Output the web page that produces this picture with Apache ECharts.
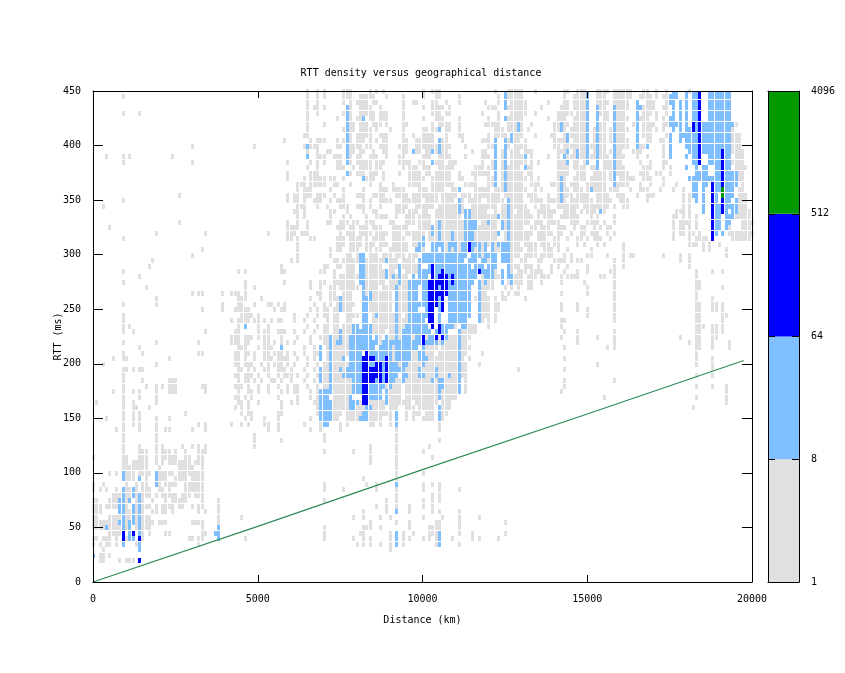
<!DOCTYPE html>
<html><head><meta charset="utf-8">
<style>html,body{margin:0;background:#fff}#c{width:845px;height:673px}</style>
<script src="https://cdn.jsdelivr.net/npm/echarts@6/dist/echarts.min.js"></script>
</head><body><div id="c"></div>
<script>
const colorLevels=[1,8,64,512,4096];
const levelColors=['#e0e0e0','#7fbfff','#0000ff','#009900'];
const distanceBinKm=100, rttBinMs=5;
const limitLine=[[0,0],[5000,51],[10000,103],[15000,154],[19750,203]];
// [rtt bin, "distance bins or bin ranges"]
const grayRows=[
[90,"65 68 70 76-78 84 86 88 100 103-105 122 126-130 134 143-144 147-149 153-156 158-163 167-168 171 174 181"],
[89,"9 65 68 70 76-78 81-85 89 94 100 104-105 111 123 126-130 143 146-149 153-155 158-163 166-169 171 173-174"],
[88,"65 68 76 78 80-83 85-86 94 97-98 103-104 107 111 119 123 127-131 138 143-144 146-149 153-156 158-162 168-170 174"],
[87,"65 67-68 70 78 81-84 87 94 100 103-106 108 120-122 126-131 136 142-144 146-149 154-155 158-162 167-170 173-174"],
[86,"9 14 65 68 76 78 81-85 87-89 94 103-105 107-108 118 123 127-131 134 141-145 147-149 153-156 159-161 167-169 171 174"],
[85,"65 74 78 80-82 84-85 87-89 94 100 104-106 111 120 123 126-130 138 141-143 146-149 155-156 158-162 166-168 171 173"],
[84,"65 70 78-79 81-83 85-87 89 94-95 103 105-108 111 119-123 126-128 130 133 140-144 146-149 153-155 158-161 164 167-170 173-174 194-195"],
[83,"65 76 78-79 81-84 86 90 94 100-101 103-105 107-108 111 122-124 126-128 130 132 140-143 145-149 152-155 157-162 167-169 171 173 194"],
[82,"64-65 78 80-84 87-89 94 97 100-103 107 111-112 120 122-125 127-130 134 139-140 143 145-149 152-155 157-161 167-169 174 194-196"],
[81,"58 66 68-70 74 76 78 80-82 84 86 88-89 94-95 98-103 105-107 112 118-120 126-129 131 140-144 146-149 152-155 157-162 168-169 172-173 194-196"],
[80,"30 49 64 66-68 74-75 78-81 83-84 87-89 93-95 98-104 106-108 113 120-121 126 128-131 140-141 143-149 151-155 158-162 165-167 173 181 194-196"],
[79,"65 68 71-72 78-79 81-82 85 88-89 94-95 98-99 101-104 106-107 115 118-119 124 127-129 131-133 141-143 146-149 152-155 157-160 164-166 173 194-197"],
[78,"4 9 11 24 65 68-70 73-75 78 80-81 84-86 89 93-94 100-102 105-108 113 118-120 124 127-131 133 138 141 144-149 151-156 158-161 165 168 173 195-197"],
[77,"9 30 59 66 68 70 74-75 78 80-84 86-88 93-96 99-100 103-106 108-110 118 121 124 127-131 133 135 141-144 146-147 149 155-157 159-160 166 169 173-174 194-197"],
[76,"65 68 74-76 79 81-84 86-87 94 96-98 100-102 105-109 116-118 120-121 124 126-129 132-133 141-144 146-149 151-153 155-157 159-161 167-169 173 175 195-198"],
[75,"59 66-68 78 80-82 84-86 88 93 96-99 101-102 104-108 111 115-120 124 126-130 132-133 141-144 147-149 152-155 157 159-162 166-168 171-172 175 195-197"],
[74,"59 64 66-70 72-73 76 83-85 88 96-100 103-108 111-112 116 120-122 124 126-131 133 135 141-143 146-149 151-155 157 160-164 167-169 173 196-197"],
[73,"62-64 66-70 73-74 78 84 87 91 96-99 103-109 113-116 120-122 124 126-130 133-135 139-143 145-147 150-155 158-162 166 169 173 177 197"],
[72,"62 64-66 72 76 82 87-89 91-94 99-101 103-106 109-111 116-120 122-124 126-131 134 136 141-144 146-148 150-155 157-159 163 166-168 172 176 179 196-197"],
[71,"26 59 61-62 64-66 68-70 73 76 80-82 85-88 92-95 97-104 106-110 112-114 116-123 125-130 132-134 138 141-145 147-150 153-156 159-161 165 168-170 179 181 196-198"],
[70,"9 59 61-62 64 67-69 72 74-76 82 84 87-90 94-99 101-104 106-109 112 114-117 120-124 126-130 133-136 138-143 145-151 153-157 160-162 168 179 181 196-198"],
[69,"3 62 63-64 68 71 75-77 80-82 84 87 92-95 98-103 105-110 112 115-122 124-125 127-131 134 136-138 141-147 149-156 158 161-162 179 181 194 196-198"],
[68,"61-62 64 72-73 77 82 85-86 92-94 96-98 100-101 104-110 112 115-119 122 124-127 129-132 135-140 143-146 148 150-152 154-155 177-179 181 196-199"],
[67,"62 64 72 76 78 83 86-89 92 95-97 99-102 104-111 115-122 124-125 127-130 131-133 135 137-139 142-147 151 153 158 176-177 179 181 183 195-199"],
[66,"26 59 62 65 71-72 75-77 79-80 83-85 90-91 95-97 99-102 104 106-113 116 118-119 121-122 125 127-132 134-136 138-141 145-147 150-153 155 158 176 178-181 183 193 197-200"],
[65,"5 59-62 65 74-76 78-79 81-83 85-87 91-95 99-102 104 106-112 115 117-122 125 127-130 133-134 136-138 141-143 146 148-149 152 154 156-157 176 178-179 181 183 193 197-199"],
[64,"19 34 53 59-61 63-65 75 77-79 81-84 86-89 91-93 95-100 102 104 106-112 116-123 125 127-133 135-139 141-142 145 148-149 151-153 156 158 176 178-179 181-182 184 193-200"],
[63,"9 59-60 62 66-67 74-76 78-81 83 85-88 91-94 97-100 102-104 106-108 110-112 116-122 125 127-132 135-137 140-141 144 147-148 150 152-154 157 176 181 183-186 194-199"],
[62,"62 74-76 78-81 83-85 87-89 91-95 97-99 103 105 107 110-112 116-118 120 122 124 127-129 131-134 136-138 140-141 147 149 153 155 161 181-183 185 187 190"],
[61,"33 62 72 74-75 78-80 83-84 86-87 90-95 98-100 104 106-109 111 116-119 121-123 127-130 132-134 137-139 141 144 151 161 185 187 192"],
[60,"30 62 72 77-78 80 84-86 88-90 92-94 96-98 118-122 127-129 131-134 136-139 143 145 150-151 156 161 163-164 173 178 181 192"],
[59,"18 60 62 73-74 76-80 83-88 90-92 94-97 118-121 127 130-131 135-136 140-143 145 147-148 158 161 178 181"],
[58,"17 57 70-71 74-75 77-79 83-87 90-92 94-98 118 127-129 131-133 135 139 141 144 150 158 161 181"],
[57,"9 44 46 57-58 69-70 73 77-79 83-88 90-91 95-98 118-122 127 129-131 133-136 139 143 147 150 157-158 183 188 191"],
[56,"14 73 75-80 83-88 90-92 94-95 118-124 126-130 132-134 136-138 142 144-147 154-155 158 183"],
[55,"9 46 58 66 69-70 73-79 83-88 90-92 94-95 118-121 126-130 132-133 136 142 149 158 183-184"],
[54,"16 46 49 66 69 72-73 75-80 83-86 88-91 93-95 118-121 125 127 129 132-133 150 158 183-184 191"],
[53,"30 32-33 39 42-44 46 68-69 72-73 76-78 83-90 93 94-95 118-119 124 126 128-129 142 150 158 183"],
[52,"19 44-46 51 66 69 72-74 76-78 85-90 93-95 116 118-120 122 124-125 131 158 183 188"],
[51,"9 19 39 44-45 49 53-54 56 58 67 70 72 74 76-79 84-90 93-95 118-120 122-123 142 147 158 183-184 188-189 191"],
[50,"33 39 43-47 55 57-58 66 68 70-71 73-74 76-78 84-90 93-95 102 118-120 122-123 142 147 150 158 183-184 188-189 191"],
[49,"9 45-48 50 61 65 68 70-71 73-74 77-80 85-91 93 95 118-120 122 150 158 183-184 191-192"],
[48,"9 42 44-47 49-50 52 54 56-57 61 64 67 71 73-74 77-78 85-91 93-95 118 120 122 142-143 158 183-184 191"],
[47,"9 11 44 50 53 65 68 70-71 73-74 76-78 85-91 93-94 108-110 113-116 120 142 183-185 188-189 191"],
[46,"9 12 34 43-44 50 52-53 56-58 61 64 67 70-71 73-74 76-78 85-88 90-91 93 112-116 143 147 158 183-184 188-189 191"],
[45,"42-44 46-48 50 52-53 57 62 66 69-71 73-74 76-77 87 90-91 93 97 100-101 105-106 108-110 112-114 142 147 153 158 178 183-184 188-189"],
[44,"9 19 32 42-44 46-47 52-53 55 57 59 61 66 70-71 73 76-77 87 91 97-98 102-103 105 107-110 112-113 147 158 181 183-184 188 193"],
[43,"14 44-46 50 52-54 57 64 67 71 73-77 91 97 101-104 106-110 112-114 143 156 158 183-184 188 193"],
[42,"9 15 32-33 43-44 46-47 49 52-53 55-57 59 61 64 67-68 71 73-77 91 97-98 101-103 105-110 112-113 118 183"],
[41,"6 9-10 23 43-44 46 49 52-54 56-59 62 65 67 71 73-75 91 97-98 102-110 112 114 143 183 188"],
[40,"3 19 43-44 46-48 51 53 55-57 59 61 65 68 70-71 73-77 93 96-99 101-110 112-113 117 153 183 188"],
[39,"9-10 12 14-15 44-45 47 49 52-53 56-58 60 64 67 70-71 73-74 76 82-84 86-87 95-98 100-103 105-110 112-113 129 143 188"],
[38,"9 43-44 46-48 50 53 56 58-60 62 65 68 70-71 73-75 82-84 95-98 101-103 105-107 109-110 112-113 183 188"],
[37,"9 15 23-25 44 46-47 49 51 54-55 57 60 64 67 70-71 73-78 82-84 87 92-93 95-102 104 107-110 113 143 158"],
[36,"9 16 19 21 23-25 33-34 43-45 47 50 53 56 59 61-62 65 68 70-71 73-78 82-83 89 91-93 95-104 107-110 113 143 183 188 192"],
[35,"6 9 12 14 19 23-25 34 44 47-48 50 53 57 59 61-62 66 68 73-78 82-83 90-93 95-104 106-110 113 142 192"],
[34,"9 14 19 43-44 46 48 56 62 66 68 73-77 82-83 90-93 95-104 106-110 155 183 192"],
[33,"1 9 12 19 44-45 47 50 57 60 62 67-68 73-77 81 83-88 90-96 98-104 106-108 192"],
[32,"9 12-13 17 43 45 47 57 68 73-77 80-82 85-88 90-92 95-97 99-103 106-108 182"],
[31,"9 12 14 28 45 47-48 56-57 68 73-75 77-81 84-90 95 97-99 101-103 106-107"],
[30,"4 9 12 14 19 23 46 48 52 56 66 73-74 77-80 84-87 90 95 97 100-103 106"],
[29,"9 12 14 19 32 34 42 45 47 52-53 56 64 69 75 77 84-85 87 90 92 105"],
[28,"7 9 14 19 22-23 30 34 53 56 66 69 75 92 105"],
[27,"9 19 49 70 92"],[26,"9 19 49 57 70 92 105"],
[25,"9 14 19 21 27 30 32 34 49 84 92 102"],
[24,"9 14-16 19 21-23 25 28 32-34 70 79 84 92 100"],
[23,"0 9-10 14-16 19 21-25 28-29 32-33 84 92 103"],
[22,"9-10 12-16 19 21 23-29 31-33 84 92"],
[21,"9-16 20 26-30 33 92"],
[20,"5 7 10-12 14-17 20-24 26-33 92 100"],
[19,"10-12 14 16 20-22 25-28 30-33 82 92"],
[18,"0 3 10 13 15-16 20 22-25 28-33 70 83 86 100 103 105"],
[17,"0 2 4 7 10-13 15-17 20-21 23 28-33 70 76 86 92 100 105 111"],
[16,"6-8 10-13 15-17 19 21-25 27-29 31-33 92 103 105"],
[15,"0-1 5-7 10-11 13 15 18 22 24-28 33 38 70 89 92 100 103 105"],
[14,"0-2 4-7 10 13 15-17 19 21-24 26-27 30 32-33 38 86 89 92 96 100 103"],
[13,"0-2 10-11 13 15 18-19 21-22 24 32 34 38 82 89 96 103 105 111"],
[12,"0-1 5-8 10-11 13 15-17 38 45 79 82 87 90 100 106 111 117"],
[11,"0-8 10 13 15-18 20-22 30-33 38 84 92 96 104-105 111 125"],
[10,"0-8 10 13 15-17 33 38 70 82-84 87 96 102-105 111"],
[9,"5-8 15 17 22-23 33-34 38 70 81-82 90 94 97 102-105 111 115 125"],
[8,"0-1 3-5 7 10 15 29-30 32-33 46 70 79 82 84 90 94 96 100 102 104 109 115 117 123"],
[7,"0 2 4-5 7 13 32 80 82 84 87 90 94 104 111"],
[6,"3 90"],[5,"2-3 5"],[4,"2-3 8 10-12"]
];
const lightRows=[
[90,"125 150 176-177 180 182-183 187-193"],[89,"125 150 175-177 180 182-183 187-193"],
[88,"125 150 165 175-176 178 180 182-183 187-193"],[87,"77 125 150 153 158 165-166 176 178 180 182-183 187-193"],
[86,"77 150 153 158 165 176 178 180 182-183 187-193"],[85,"82 77 125 150 153 158 165 175-176 178 180 182-183 187-193"],
[84,"77 129 142 150 153 158 165 175-177 178 180 182-183 185-186 187-194"],[83,"77 105 129 142 150 153 158 165 176 178 180-183 185-186 187-193"],
[82,"77 127 144 150 153 158 165 175 178-183 185-186 187-193"],[81,"77 105 122 125 127 144 150 153 158 165 175 178 180-183 185-186 187-193"],
[80,"65 77 105 122 125 150 153 158 165 168 175 180-183 185-186 187-193"],[79,"77 97 103 105 122 125 144 147 150 153 158 175 181-183 185-186 187-190 192-193"],
[78,"65 77 122 125 131 143 147 150 153 158 175 180 182-183 187-190 192-193"],[77,"77 103 122 125 144 150 153 158 182-183 187-190 192-193"],
[76,"122 125 131 153 158 180 183 185-186 189-190 192-193"],[75,"77 122 125 158 183-186 189-190 192-195"],
[74,"82 122 125 142 158 181-186 187-190 192-195"],[73,"122 125 142 158 182-183 185-186 189-190 192-195"],
[72,"111 125 142 151 182-183 185 189-190 192-194"],[71,"142 182-183 185 189 192-194"],
[70,"111 126 142 183 185 189 192-193 195"],[69,"111 126 185 189-190 192-195"],
[68,"111 113-114 126 154 185 189-190 192 194-195"],[67,"113-114 123 126 189-190 192-194"],
[66,"105 113-116 120 124 126 189-190 192-193"],[65,"103 105 113-116 124 126 189-190 192"],
[64,"103 105 109 113-115 123 126 189 191"],[63,"100 105 109 113-115 126 188"],
[62,"99-100 103-106 108-110 112-113 115-117 119 121 123-126"],[61,"98-99 103-104 106 108 110 112-113 115 117 119 121 124-126"],
[60,"81-82 100-113 115-117 119-122 124-126"],[59,"81-82 89 99-112 114-116 118-119 121-122 124-126"],
[58,"81-82 93 99 102-114 116-118 120-122 126"],[57,"81-82 89 93 99-102 104-105 107-116 118-121 124 126"],
[56,"81-82 89 91 93 97 99-101 104 108-116 119-121 124 126-127"],[55,"81-82 93 96-101 105-115 117 119 124 127"],
[54,"82 92 96-98 100-101 104-114 117"],[53,"82 84 92 96-98 100-101 104-114 117"],
[52,"75 82-84 92 96-98 100-101 105 108-114 117"],[51,"75 82-83 92 96-101 105 108-114 117"],
[50,"75 82-83 92 96-98 101 105 108-114 117"],[49,"82-83 86 92 96-101 105 108-114 117"],
[48,"82-83 92 96-100 105 108-113 117"],[47,"46 79-80 82-84 92 95-101 106-109 112-113"],
[46,"75 79-84 92 94-102 104-107 111"],[45,"72 75 78-84 86 89 92 94-96 98-99 102-104 107 111"],
[44,"72 74-75 78-86 88-99 101-104 106 111"],[43,"57 69 72 78-85 87-90 92-98 100 111"],
[42,"69 72 78-81 84-90 92-96 99-100 111"],[41,"69 72 76 78-90 92-96 99-101 111"],
[40,"72 78-92 94-95 100 111"],[39,"69 72 75 77-81 85 88-94 99 104 111"],
[38,"69 72 76-81 85 88-92 94-95 99-100 104 108 111"],[37,"69 72 79-81 85-86 88-91 94 103 105-106 111"],
[36,"72 79-81 84-88 90 105-106 111"],[35,"69-72 79-81 84-87 89 105 111"],
[34,"69-71 78 84-87 89 105"],[33,"69-72 78-80 89"],
[32,"69-72 78-79 83-84 105"],[31,"69-72 82-83 92 105"],
[30,"69-72 81-83 92 105"],[29,"70-71 92"],
[20,"9 19"],[19,"9 14 19"],[18,"19 92"],[17,"9 12"],[16,"9 12 14"],[15,"8-9 11 14"],[14,"8-9 12 14"],[13,"8-9 12 14 92"],[12,"9 12 14"],[11,"8-9 11-12 14"],
[10,"4 9 11 14 38"],[9,"11 14 37-38 92 105"],[8,"11-12 38 92 105"],[7,"9 14 92 105"],[6,"14"],[5,"0"]
];
const blueRows=[
[90,"184"],[89,"184"],[88,"184"],[87,"184"],[86,"184"],[85,"184"],[84,"182 184"],[83,"182 184"],[82,"184"],[81,"184"],[80,"184"],[79,"184 191"],[78,"184 191"],[77,"184 191"],
[76,"191"],[75,"191"],[74,"191"],[73,"188 191"],[72,"188"],[71,"188"],[70,"188 191"],[69,"188 191"],[68,"188 191"],[67,"188"],[66,"188"],[65,"188"],[64,"188"],[63,"188"],
[62,"114"],[61,"114"],[58,"103"],[57,"103 106 117"],[56,"103 105-107 109"],[55,"102-107 109"],
[54,"102-104 106-107"],[53,"102-107"],[52,"102-104 106"],[51,"102-104 106"],[50,"102-103 106"],[49,"102-103"],[48,"102-103"],[47,"103 105"],[46,"105"],[45,"100 104 106"],[44,"100"],
[42,"83"],[41,"82-85 89"],[40,"82-83 86-87 89"],[39,"82-87 89"],[38,"82-87 89"],[37,"82-85 87 89"],[36,"82-83"],[35,"82-83"],[34,"82-83"],[33,"82-83"],
[9,"9 12"],[8,"9 14"],[4,"14"]
];
const greenRows=[[72,"191"],[71,"191"]];

function expand(rows){
  const out=[];
  rows.forEach(([r,s])=>s.split(' ').forEach(t=>{
    const [a,b]=t.split('-').map(Number);
    for(let c=a;c<=(b===undefined?a:b);c++) out.push([c*distanceBinKm,r*rttBinMs]);
  }));
  return out;
}
const mono='"DejaVu Sans Mono",monospace';
const cellSeries=(rows,color,z)=>({
  type:'custom',xAxisIndex:0,yAxisIndex:0,clip:true,silent:true,z,
  data:expand(rows),
  renderItem:(p,api)=>{
    const pt=api.coord([api.value(0),api.value(1)]);
    return {type:'rect',shape:{x:Math.round(pt[0])-1,y:Math.round(pt[1])-2,width:3,height:5},style:{fill:color}};
  }
});
const barData=levelColors.map((c,i)=>[0,colorLevels[i],1,colorLevels[i+1],i]);
const line={onZero:false,lineStyle:{color:'#000',width:1}};
const plain=v=>String(v);
const chart=echarts.init(document.getElementById('c'),null,{renderer:'canvas'});
chart.setOption({
  animation:false,backgroundColor:'#fff',
  title:{text:'RTT density versus geographical distance',left:416,top:63,textAlign:'center',
    textStyle:{fontFamily:mono,fontSize:10,fontWeight:'normal',color:'#000'}},
  grid:[{left:93,top:91,width:659,height:491},{left:768,top:91,width:31,height:491}],
  xAxis:[
    {gridIndex:0,type:'value',z:20,min:0,max:20000,interval:5000,position:'bottom',name:'Distance (km)',nameLocation:'middle',nameGap:33,nameMoveOverlap:false,
     nameTextStyle:{fontFamily:mono,fontSize:10,color:'#000'},axisLine:line,splitLine:{show:false},
     axisTick:{inside:true,length:7,lineStyle:{color:'#000'}},axisLabel:{fontFamily:mono,fontSize:10,color:'#000',margin:12,formatter:plain}},
    {gridIndex:0,type:'value',z:20,min:0,max:20000,interval:5000,position:'top',axisLine:line,splitLine:{show:false},
     axisTick:{inside:true,length:7,lineStyle:{color:'#000'}},axisLabel:{show:false}},
    {gridIndex:1,type:'value',z:20,min:0,max:1,position:'bottom',axisLine:line,splitLine:{show:false},axisTick:{show:false},axisLabel:{show:false}},
    {gridIndex:1,type:'value',z:20,min:0,max:1,position:'top',axisLine:line,splitLine:{show:false},axisTick:{show:false},axisLabel:{show:false}}
  ],
  yAxis:[
    {gridIndex:0,type:'value',z:20,min:0,max:450,interval:50,position:'left',name:'RTT (ms)',nameLocation:'middle',nameGap:30,nameMoveOverlap:false,
     nameTextStyle:{fontFamily:mono,fontSize:10,color:'#000'},axisLine:line,splitLine:{show:false},
     axisTick:{inside:true,length:10,lineStyle:{color:'#000'}},axisLabel:{fontFamily:mono,fontSize:10,color:'#000',margin:12,formatter:plain}},
    {gridIndex:0,type:'value',z:20,min:0,max:450,interval:50,position:'right',axisLine:line,splitLine:{show:false},
     axisTick:{inside:true,length:10,lineStyle:{color:'#000'}},axisLabel:{show:false}},
    {gridIndex:1,type:'log',z:20,logBase:8,min:1,max:4096,position:'right',axisLine:line,splitLine:{show:false},
     axisTick:{inside:true,length:7,lineStyle:{color:'#000'}},minorTick:{show:false},
     axisLabel:{fontFamily:mono,fontSize:10,color:'#000',margin:12,formatter:plain}},
    {gridIndex:1,type:'log',z:20,logBase:8,min:1,max:4096,position:'left',axisLine:line,splitLine:{show:false},
     axisTick:{inside:true,length:7,lineStyle:{color:'#000'}},minorTick:{show:false},axisLabel:{show:false}}
  ],
  series:[
    cellSeries(grayRows,levelColors[0],1),
    cellSeries(lightRows,levelColors[1],2),
    cellSeries(blueRows,levelColors[2],3),
    cellSeries(greenRows,levelColors[3],4),
    {type:'line',xAxisIndex:0,yAxisIndex:0,data:limitLine,showSymbol:false,symbol:'none',z:5,silent:true,
     lineStyle:{color:'#2e8b57',width:1.2}},
    {type:'custom',xAxisIndex:2,yAxisIndex:2,silent:true,z:1,data:barData,encode:{x:[0,2],y:[1,3]},
     renderItem:(p,api)=>{
       const a=api.coord([api.value(0),api.value(1)]),b=api.coord([api.value(2),api.value(3)]);
       return {type:'rect',shape:{x:a[0],y:b[1],width:b[0]-a[0],height:a[1]-b[1]},style:{fill:levelColors[api.value(4)]}};
     }}
  ]
});
</script></body></html>
